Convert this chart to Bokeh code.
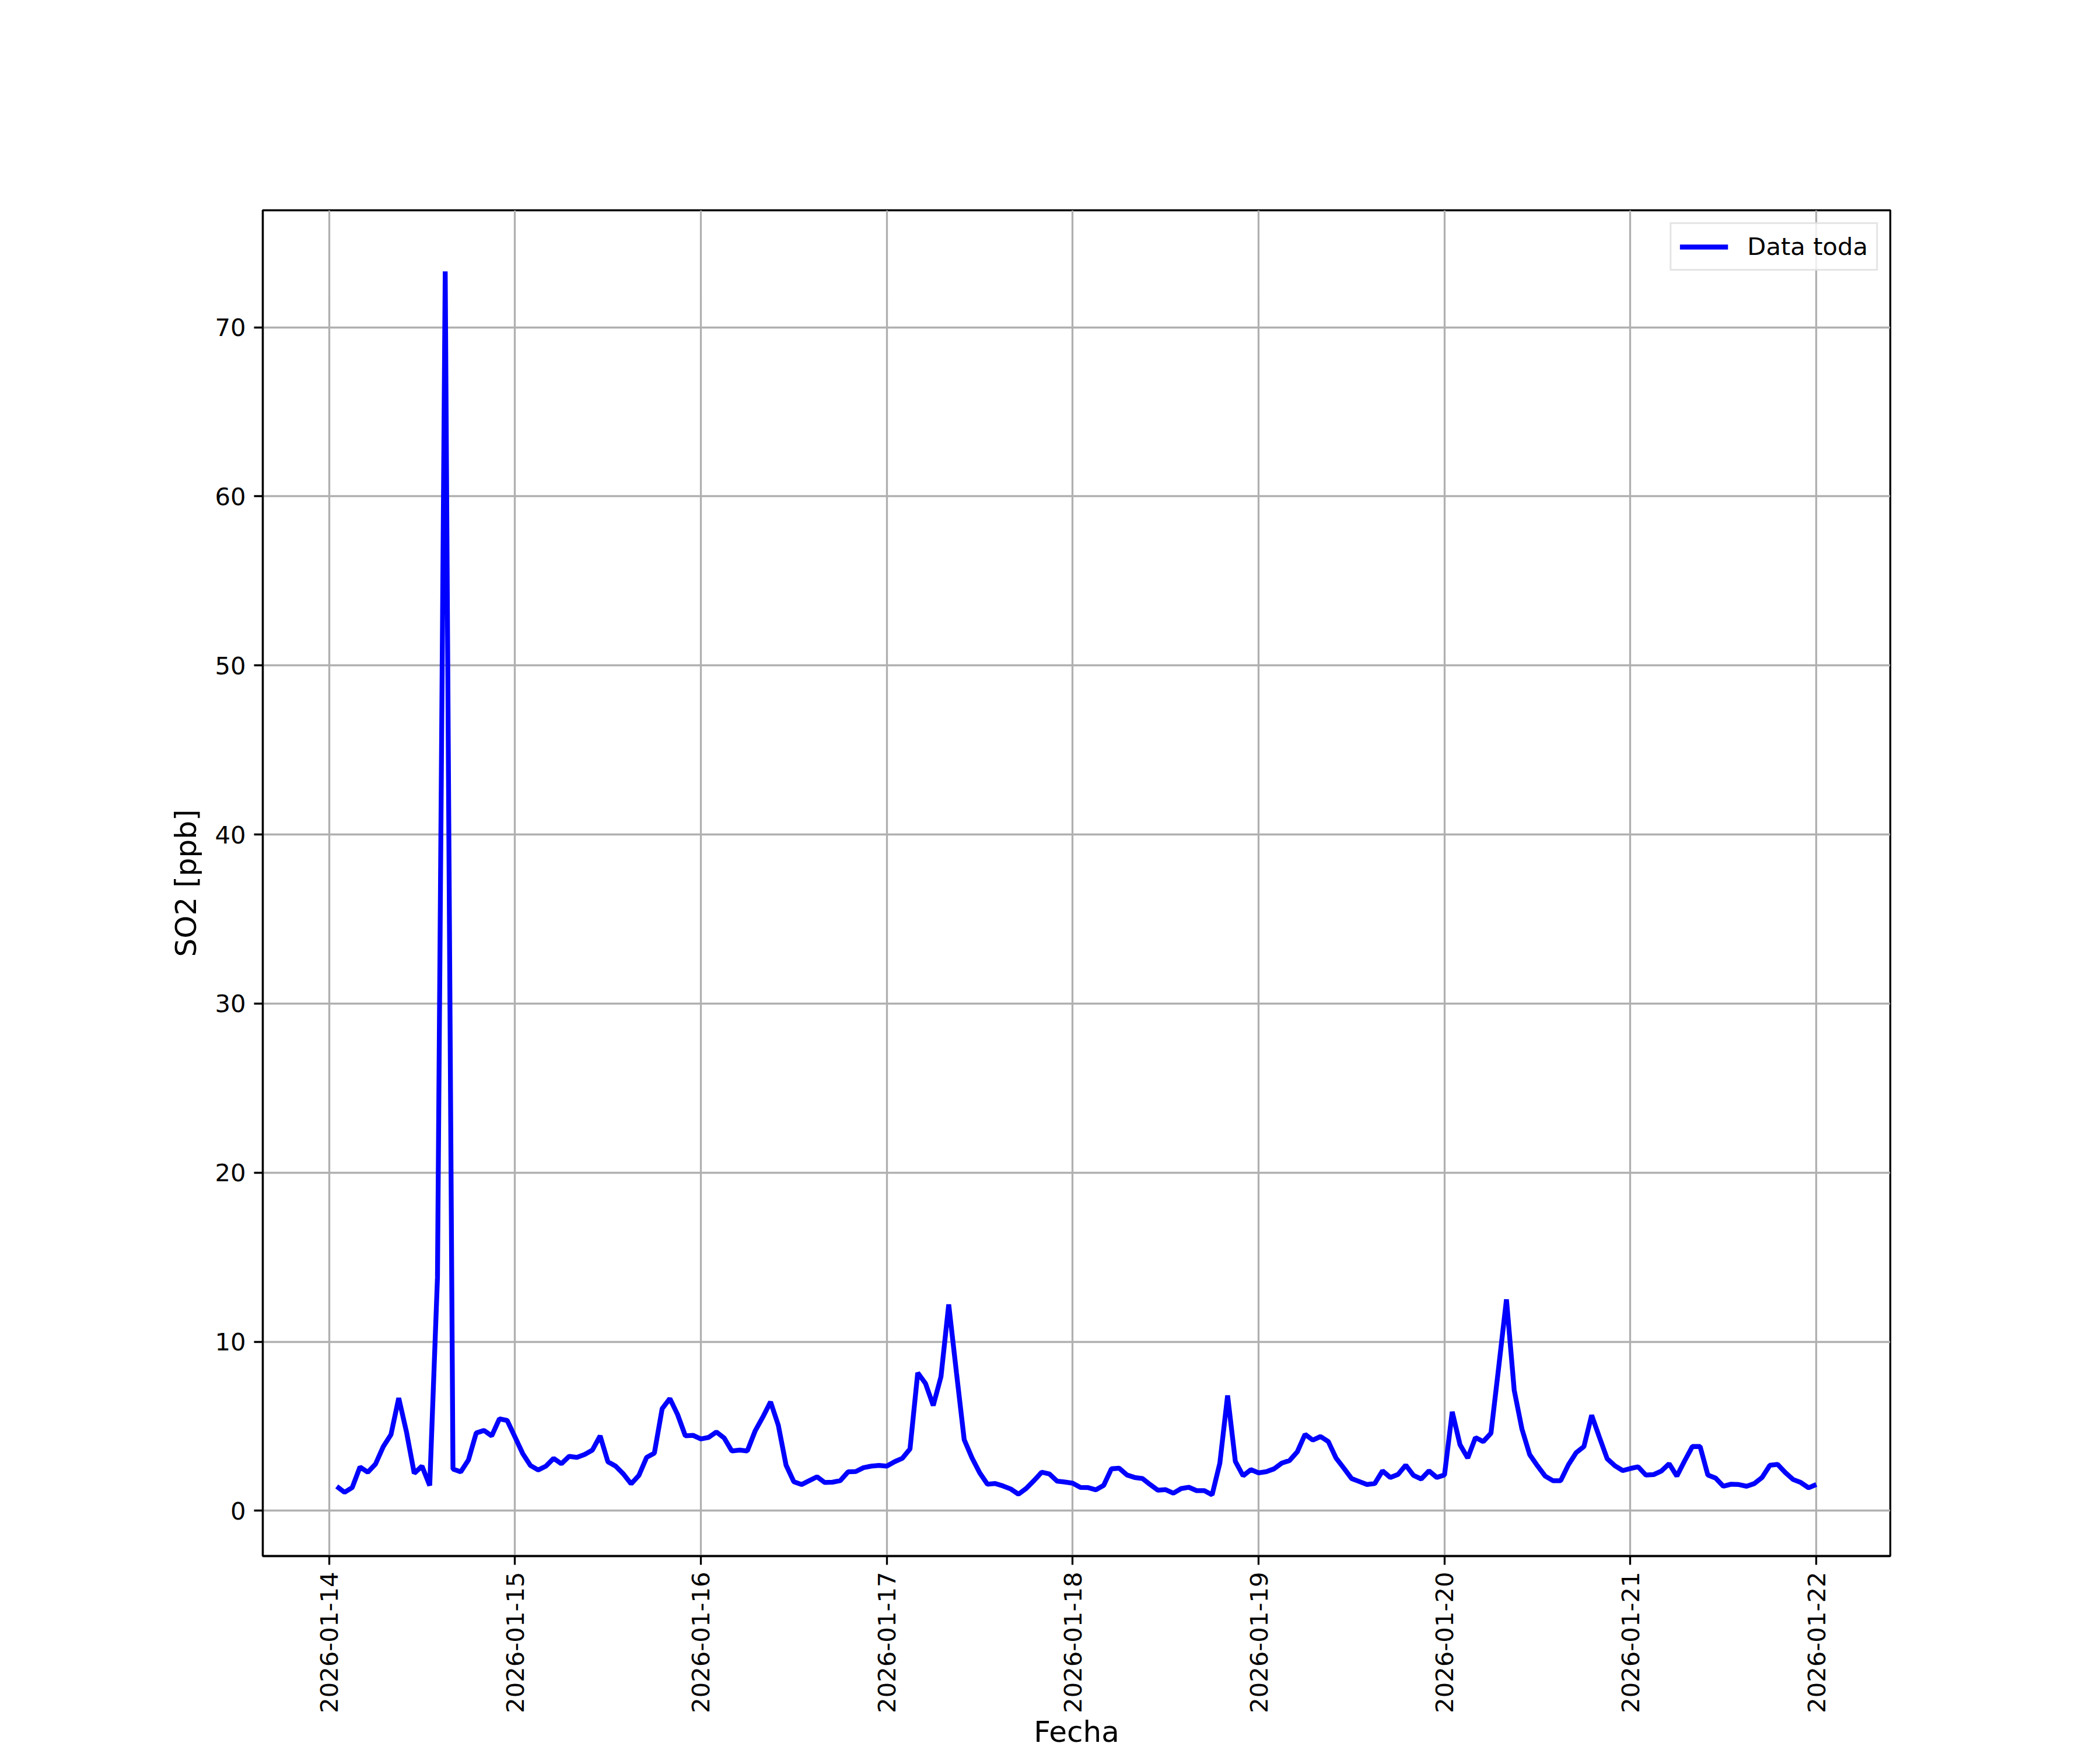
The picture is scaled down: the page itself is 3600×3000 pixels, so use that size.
import pandas as pd
from math import pi
from bokeh.plotting import figure
from bokeh.models import FixedTicker, DatetimeTickFormatter, Range1d
from bokeh.embed import file_html
from bokeh.resources import INLINE

# hourly SO2 readings, 2026-01-14 01:00 .. 2026-01-22 00:00
start_time = "2026-01-14 01:00"
so2_ppb = [
    1.44, 1.09, 1.38, 2.59, 2.28, 2.76, 3.79, 4.51, 6.67, 4.66, 2.21, 2.64,
    1.49, 13.8, 73.3, 2.47, 2.30, 3.01, 4.60, 4.75, 4.43, 5.44, 5.34, 4.37,
    3.39, 2.68, 2.41, 2.64, 3.10, 2.78, 3.22, 3.16, 3.33, 3.59, 4.43, 2.90,
    2.64, 2.18, 1.59, 2.09, 3.16, 3.41, 6.03, 6.64, 5.69, 4.43, 4.46, 4.25,
    4.34, 4.66, 4.31, 3.54, 3.59, 3.54, 4.71, 5.54, 6.44, 5.06, 2.70, 1.72,
    1.55, 1.78, 2.01, 1.67, 1.69, 1.78, 2.30, 2.32, 2.55, 2.64, 2.68, 2.64,
    2.90, 3.10, 3.66, 8.16, 7.53, 6.23, 7.93, 12.2, 8.16, 4.20, 3.13, 2.24,
    1.57, 1.61, 1.47, 1.29, 0.98, 1.32, 1.78, 2.28, 2.18, 1.75, 1.70, 1.63,
    1.38, 1.37, 1.24, 1.50, 2.48, 2.52, 2.12, 1.97, 1.91, 1.55, 1.22, 1.25,
    1.04, 1.31, 1.39, 1.19, 1.19, 0.94, 2.82, 6.82, 2.92, 2.07, 2.43, 2.24,
    2.31, 2.48, 2.82, 2.97, 3.49, 4.52, 4.18, 4.39, 4.09, 3.12, 2.52, 1.91,
    1.73, 1.55, 1.61, 2.36, 1.97, 2.15, 2.70, 2.09, 1.88, 2.36, 1.97, 2.12,
    5.85, 3.91, 3.12, 4.33, 4.09, 4.59, 8.50, 12.5, 7.13, 4.83, 3.32, 2.66,
    2.05, 1.78, 1.78, 2.72, 3.44, 3.80, 5.65, 4.35, 3.08, 2.66, 2.38, 2.50,
    2.60, 2.11, 2.14, 2.35, 2.78, 2.05, 2.95, 3.80, 3.80, 2.11, 1.93, 1.45,
    1.57, 1.55, 1.45, 1.61, 1.97, 2.69, 2.74, 2.26, 1.85, 1.67, 1.36, 1.55,
]
day_ticks = ["2026-01-14", "2026-01-15", "2026-01-16", "2026-01-17", "2026-01-18",
             "2026-01-19", "2026-01-20", "2026-01-21", "2026-01-22"]
y_ticks = [0, 10, 20, 30, 40, 50, 60, 70]

times = pd.date_range(start_time, periods=len(so2_ppb), freq="h")

# matplotlib-like 5% margins
t0, t1 = times[0], times[-1]
tspan = t1 - t0
x_lo, x_hi = t0 - 0.05 * tspan, t1 + 0.05 * tspan
ymin, ymax = min(so2_ppb), max(so2_ppb)
ypad = 0.05 * (ymax - ymin)

FONT = "DejaVu Sans"
p = figure(width=3584, height=3000, x_axis_type="datetime",
           output_backend="svg", toolbar_location=None,
           x_range=Range1d(x_lo, x_hi), y_range=Range1d(ymin - ypad, ymax + ypad),
           min_border_left=450, min_border_right=344, min_border_top=360,
           min_border_bottom=330)
p.background_fill_color = "white"
p.border_fill_color = "white"
p.outline_line_color = "black"
p.outline_line_width = 3.3

p.line(times, so2_ppb, line_color="#0000ff", line_width=8.3, legend_label="Data toda")

tick_ms = [pd.Timestamp(d).value / 1e6 for d in day_ticks]
p.xaxis.ticker = FixedTicker(ticks=tick_ms)
p.xaxis.formatter = DatetimeTickFormatter(days="%Y-%m-%d", hours="%Y-%m-%d",
                                          months="%Y-%m-%d", years="%Y-%m-%d")
p.xaxis.major_label_orientation = pi / 2
p.yaxis.ticker = FixedTicker(ticks=y_ticks)

for ax in (p.xaxis, p.yaxis):
    ax.major_label_text_font = FONT
    ax.major_label_text_font_size = "41.7px"
    ax.major_label_text_color = "black"
    ax.axis_label_text_font = FONT
    ax.axis_label_text_font_size = "50px"
    ax.axis_label_text_font_style = "normal"
    ax.axis_label_text_color = "black"
    ax.axis_label_text_line_height = 1.0
    ax.axis_line_color = "black"
    ax.axis_line_width = 3.3
    ax.major_tick_line_color = "black"
    ax.major_tick_line_width = 3.3
    ax.major_tick_out = 15
    ax.major_tick_in = 0
    ax.minor_tick_line_color = None
    ax.major_label_standoff = 14

p.xaxis.major_label_standoff = 12
p.xaxis.axis_label = "Fecha"
p.yaxis.axis_label = "SO2 [ppb]"
p.xaxis.axis_label_standoff = 0
p.yaxis.axis_label_standoff = 17

p.grid.grid_line_color = "#b0b0b0"
p.grid.grid_line_width = 3.3

lg = p.legend[0]
lg.location = "top_right"
lg.margin = 21
lg.padding = 14
lg.spacing = 0
lg.label_text_font = FONT
lg.label_text_font_size = "41.7px"
lg.label_text_color = "black"
lg.glyph_width = 83
lg.glyph_height = 34
lg.label_standoff = 33
lg.label_height = 34
lg.border_line_color = "#cccccc"
lg.border_line_width = 3.3
lg.background_fill_alpha = 0.8

open("out.html", "w").write(file_html(p, INLINE))
